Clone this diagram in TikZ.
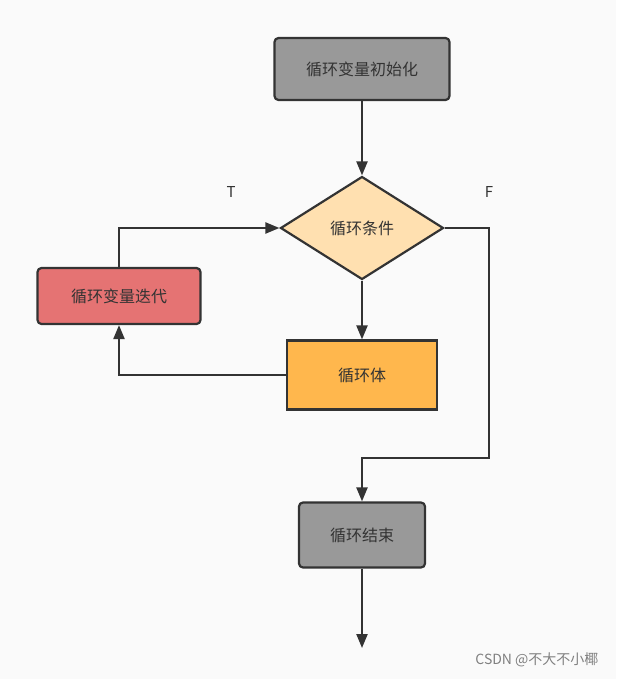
\documentclass[tikz,border=0pt]{standalone}
\usepackage{fontspec}
\setmainfont{Noto Sans CJK SC}
\usetikzlibrary{arrows.meta,positioning,shapes.geometric}
\definecolor{linec}{HTML}{333333}
\definecolor{boxgray}{HTML}{999999}
\definecolor{condc}{HTML}{FFE0B0}
\definecolor{bodyc}{HTML}{FFB74D}
\definecolor{iterc}{HTML}{E57373}
\begin{document}
\begin{tikzpicture}[x=1pt,y=-1pt,
  box/.style={draw=linec,line width=2.2pt,rounded corners=4pt,minimum width=#1,font=\fontsize{16}{18}\selectfont,text=linec},
  flow/.style={draw=linec,line width=2.2pt,-{Triangle[length=14pt,width=11pt]}}]
  \fill[fill={rgb,255:red,250;green,250;blue,250}] (0,0) rectangle (616,679);
  \useasboundingbox (0,0) rectangle (616,679);
  % boxes
  \node[box=175pt,fill=boxgray,minimum height=62pt] (init) at (362,69) {循环变量初始化};
  \node[draw=linec,line width=2.2pt,diamond,aspect=1.6,fill=condc,minimum width=163pt,minimum height=103pt,inner sep=0pt,font=\fontsize{16}{18}\selectfont,text=linec] (cond) at (362,228) {循环条件};
  \node[box=150pt,fill=bodyc,minimum height=69pt,rounded corners=0pt] (body) at (362,375) {循环体};
  \node[box=163pt,fill=iterc,minimum height=56pt] (iter) at (119,296) {循环变量迭代};
  \node[box=126pt,fill=boxgray,minimum height=65pt] (stop) at (362,535) {循环结束};
  \coordinate (out) at (362,648);
  % labels
  \node[font=\fontsize{15}{17}\selectfont,text=linec] (tlab) at (231,192) {T};
  \node[font=\fontsize{15}{17}\selectfont,text=linec] (flab) at (489,192) {F};
  \node[font=\fontsize{14}{16}\selectfont,text=gray,anchor=east] (mark) at (602,660) {CSDN @不大不小椰};
  % connectors
  \draw[flow] (init) -- (cond);
  \draw[flow] (cond) -- (body);
  \draw[flow] (body.west) -| (iter.south);
  \draw[flow] (iter.north) |- (cond.west);
  \draw[flow] (cond.east) -- (489,228) -- (489,458) -| (stop.north);
  \draw[flow] (stop) -- (out);
\end{tikzpicture}
\end{document}
